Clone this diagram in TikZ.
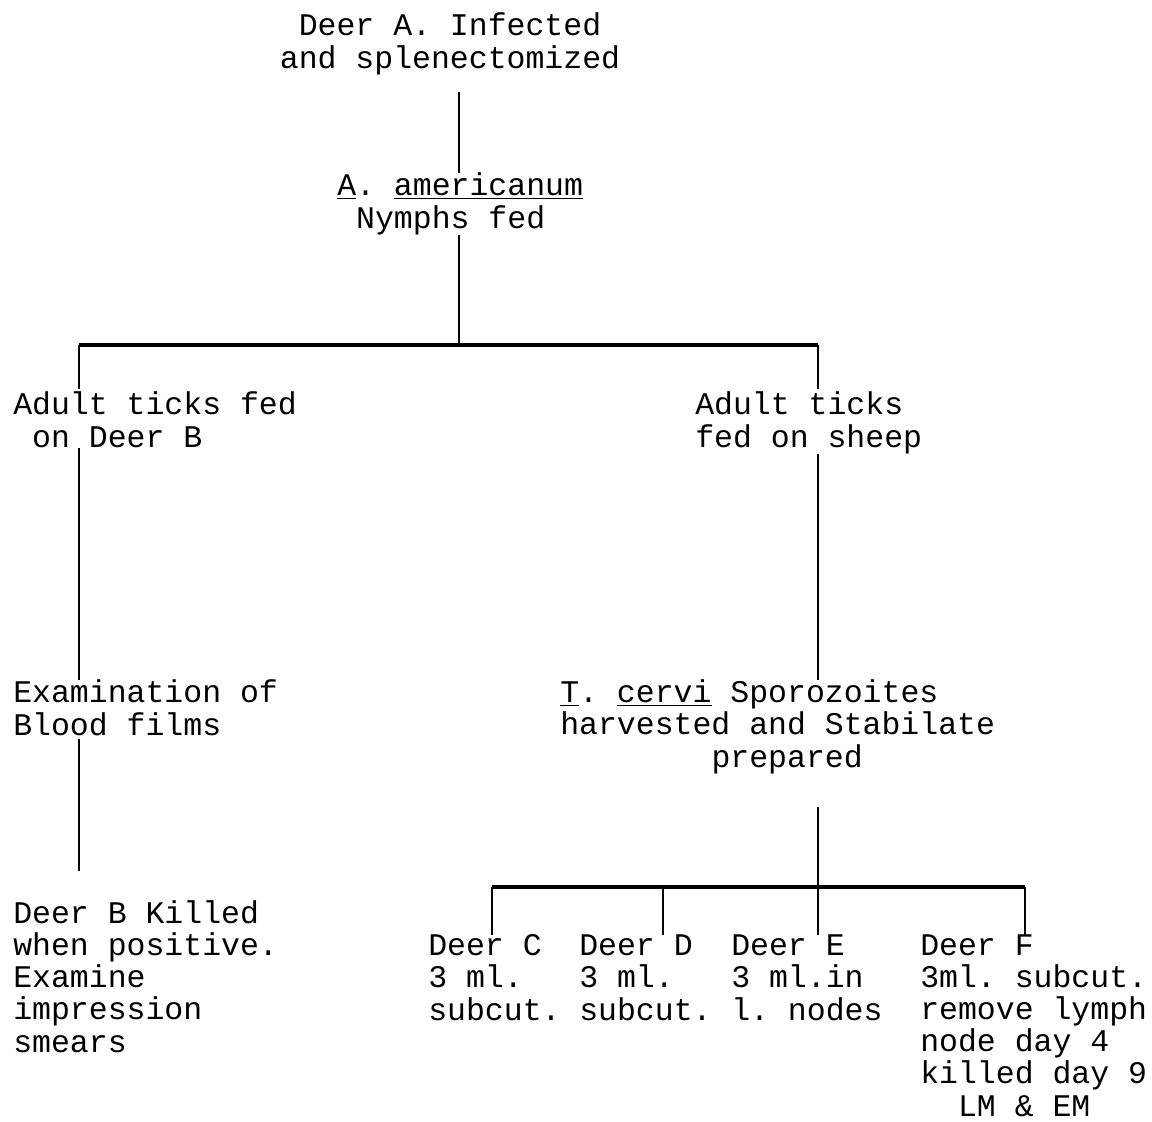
\documentclass[tikz,border=0pt]{standalone}
\usepackage{fontspec}
\setmonofont{Liberation Mono}
\usetikzlibrary{positioning}
\tikzset{
  txt/.style={inner sep=0pt, align=left, anchor=base west,
    font=\ttfamily\fontsize{22.4}{22.8}\selectfont},
  link/.style={line width=1.5pt},
  bar/.style={line width=2.6pt},
}
\begin{document}
\begin{tikzpicture}[x=0.025cm, y=-0.025cm]
\useasboundingbox (0,0) rectangle (1152,1121);
% Texte (Anker = Grundlinie der letzten Zeile)
\node[txt, align=center, anchor=base] (deerA) at (450,68) {Deer A. Infected\\and splenectomized};
\node[txt] (nymphs) at (337,228) {\underline{A}. \underline{americanum}\\\phantom{x}Nymphs fed};
\node[txt] (adultB) at (13,447) {Adult ticks fed\\\phantom{x}on Deer B};
\node[txt] (adultS) at (695,447) {Adult ticks\\fed on sheep};
\node[txt] (exam) at (13,735) {Examination of\\Blood films};
\node[txt] (cervi) at (560,767) {\underline{T}. \underline{cervi} Sporozoites\\harvested and Stabilate\\\phantom{xxxxxxxx}prepared};
\node[txt] (deerB) at (13,1052) {Deer B Killed\\when positive.\\Examine\\impression\\smears};
\node[txt] (deerC) at (428,1020) {Deer C\\3 ml.\\subcut.};
\node[txt] (deerD) at (579,1020) {Deer D\\3 ml.\\subcut.};
\node[txt] (deerE) at (731,1020) {Deer E\\3 ml.in\\l. nodes};
\node[txt] (deerF) at (920,1116) {Deer F\\3ml. subcut.\\remove lymph\\node day 4\\killed day 9\\\phantom{xx}LM \& EM};
% Verzweigungen
\coordinate (split1) at (459,345);
\coordinate (barL) at (79,345);
\coordinate (barR) at (818,345);
\coordinate (split2) at (818,887);
\coordinate (dropC) at (492,887);
\coordinate (dropD) at (663,887);
\coordinate (dropE) at (818,887);
\coordinate (dropF) at (1025,887);
% Linien
\draw[link, shorten <=0.42cm] (deerA.south -| split1) -- (nymphs.north -| split1);
\draw[link] (nymphs.south -| split1) -- (split1);
\draw[bar] (barL) -- (barR);
\draw[link, shorten >=0.08cm] (barL) -- (adultB.north -| barL);
\draw[link, shorten >=0.08cm] (barR) -- (adultS.north -| barR);
\draw[link] (adultB.south -| barL) -- (exam.north -| barL);
\draw[link] (adultS.south -| barR) -- (cervi.north -| barR);
\draw[link, shorten <=0.08cm, shorten >=0.75cm] (exam.south -| barL) -- (deerB.north -| barL);
\draw[link, shorten <=0.82cm] (cervi.south -| split2) -- (split2);
\draw[bar] (dropC) -- (dropF);
\foreach \n/\d in {deerC/dropC, deerD/dropD, deerE/dropE, deerF/dropF}
  \draw[link] (\d) -- (\n.north -| \d);
\end{tikzpicture}
\end{document}
